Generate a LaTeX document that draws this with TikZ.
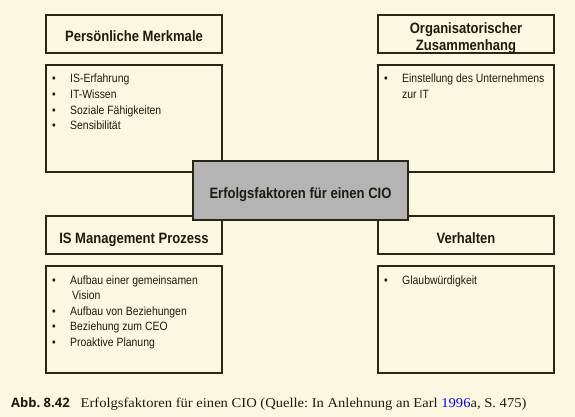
\documentclass[tikz,border=0pt]{standalone}
\usepackage{fontspec}
\setmainfont{Liberation Serif}
\newfontfamily\boxfont{Liberation Sans}[FakeStretch=0.87]
\newfontfamily\abbfont{Open Sans}
\newfontfamily\captfont{Liberation Serif}[FakeStretch=1.08]
\usepackage{tikz}
\usetikzlibrary{positioning}
\frenchspacing
\definecolor{paper}{RGB}{250,248,224}
\definecolor{frame}{RGB}{42,40,20}
\definecolor{ink}{RGB}{30,28,16}
\definecolor{hubgray}{RGB}{180,180,180}
\tikzstyle{header} = [rectangle, draw=frame, line width=2pt, fill=paper,
    minimum width=176pt, minimum height=38pt, inner sep=0pt, text=ink,
    font=\boxfont\bfseries\fontsize{15}{19}\selectfont, align=center]
\tikzstyle{title} = [header, text height=16pt, text depth=0pt]
\tikzstyle{itembox} = [rectangle, draw=frame, line width=2pt, fill=paper,
    minimum width=176pt, minimum height=107pt]
\tikzstyle{items} = [anchor=base west, inner sep=0pt, text=ink,
    font=\boxfont\fontsize{12}{15.6}\selectfont]
\tikzstyle{hub} = [rectangle, draw=frame, line width=2pt, fill=hubgray,
    minimum width=215pt, minimum height=59pt, inner sep=0pt, text=ink,
    text height=16pt, text depth=0pt,
    font=\boxfont\bfseries\fontsize{15}{19}\selectfont]
\newcommand{\itemlist}[1]{\begin{tabular}[t]{@{}p{18pt}@{}l@{}}#1\end{tabular}}
\newcommand{\bul}{\textbullet &}

\begin{document}
\begin{tikzpicture}[x=1pt, y=-1pt]
    \useasboundingbox [fill=paper] (0,0) rectangle (575,417);
    % Nodes
    \node [title] (merkmale) at (134,34) {Persönliche Merkmale};
    \node [itembox, below=10pt of merkmale] (merkmalebox) {};
    \node [header, text height=15.5pt, text depth=17pt] (kontext) at (466,34)
        {\begin{tabular}[t]{@{}c@{}}Organisatorischer\\[-2pt]Zusammenhang\end{tabular}};
    \node [itembox, below=10pt of kontext] (kontextbox) {};
    \node [title] (prozess) at (134,235) {IS Management Prozess};
    \node [itembox, below=10pt of prozess] (prozessbox) {};
    \node [title] (verhalten) at (466,235) {Verhalten};
    \node [itembox, below=10pt of verhalten] (verhaltenbox) {};
    \node [hub] (cio) at (300.5,190.5) {Erfolgsfaktoren für einen CIO};
    % Lists
    \node [items] (merkmaletext) at ([xshift=7pt, yshift=-19pt]merkmalebox.north west)
        {\itemlist{\bul IS-Erfahrung\\ \bul IT-Wissen\\ \bul Soziale Fähigkeiten\\ \bul Sensibilität}};
    \node [items] (kontexttext) at ([xshift=7pt, yshift=-19pt]kontextbox.north west)
        {\itemlist{\bul Einstellung des Unternehmens\\ & zur IT}};
    \node [items] (prozesstext) at ([xshift=7pt, yshift=-19pt]prozessbox.north west)
        {\itemlist{\bul Aufbau einer gemeinsamen\\ & \hspace{2pt}Vision\\ \bul Aufbau von Beziehungen\\
         \bul Beziehung zum CEO\\ \bul Proaktive Planung}};
    \node [items] (verhaltentext) at ([xshift=7pt, yshift=-19pt]verhaltenbox.north west)
        {\itemlist{\bul Glaubwürdigkeit}};
    % Caption
    \node [anchor=base west, inner sep=0pt, text=ink, font=\captfont\fontsize{13.5}{16}\selectfont] (caption) at (11,407)
        {{\abbfont\bfseries\fontsize{13}{16}\selectfont Abb. 8.42}\hspace{11pt}Erfolgsfaktoren für einen CIO (Quelle: In Anlehnung an Earl \textcolor{blue}{1996}a, S.~475)};
\end{tikzpicture}
\end{document}
